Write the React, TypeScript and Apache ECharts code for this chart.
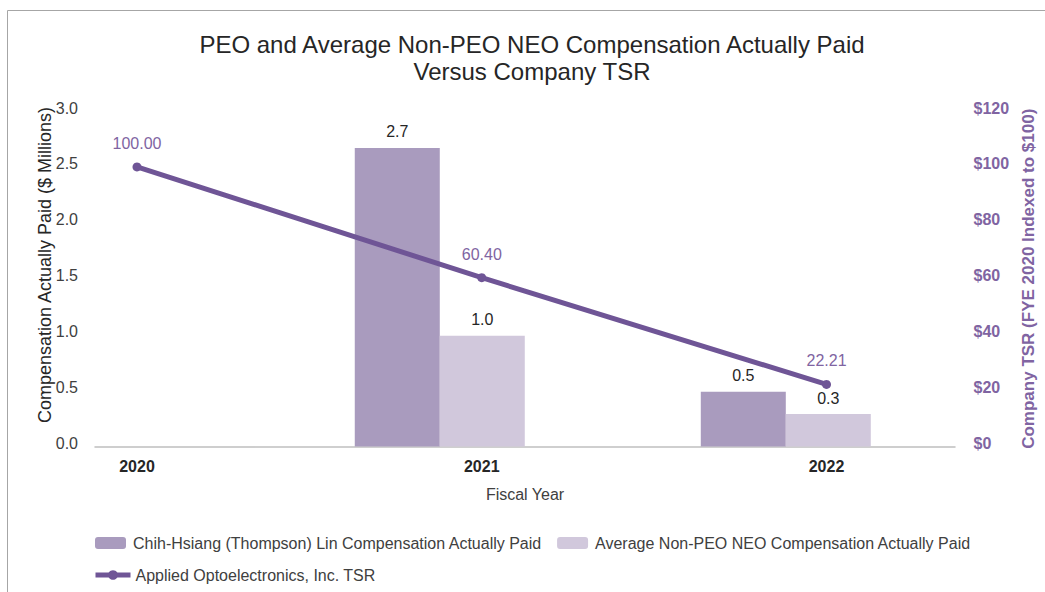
import React, { useEffect, useRef } from "react";
import * as echarts from "echarts";

const years = ["2020", "2021", "2022"];
const peoCap: (number | null)[] = [null, 2.67, 0.49];
const neoCap: (number | null)[] = [null, 0.99, 0.29];
const tsr = [100.0, 60.4, 22.21];

const peoName = "Chih-Hsiang (Thompson) Lin Compensation Actually Paid";
const neoName = "Average Non-PEO NEO Compensation Actually Paid";
const tsrName = "Applied Optoelectronics, Inc. TSR";

const FONT = "'Liberation Sans', Arial, sans-serif";
const BAR_OFFSET = 0.125;

export default function App() {
  const ref = useRef<HTMLDivElement>(null);
  useEffect(() => {
    if (!ref.current) return;
    const chart = echarts.init(ref.current, null, { renderer: "svg" });
    const barData = (arr: (number | null)[]) =>
      arr
        .map((v, i) => (v == null ? null : [i - BAR_OFFSET, v]))
        .filter((d) => d != null);
    chart.setOption({
      animation: false,
      textStyle: { fontFamily: FONT },
      graphic: [
        {
          type: "rect",
          shape: { x: 7.5, y: 10.5, width: 1200, height: 800 },
          style: { fill: "none", stroke: "#a6a6a6", lineWidth: 1 },
          silent: true,
        },
        {
          type: "text",
          x: 532,
          y: 31,
          style: {
            text: "PEO and Average Non-PEO NEO Compensation Actually Paid\nVersus Company TSR",
            textAlign: "center",
            textVerticalAlign: "top",
            fontSize: 24,
            fontFamily: FONT,
            lineHeight: 27,
            fill: "#262626",
          },
        },
        {
          type: "text",
          x: 45,
          y: 265,
          rotation: Math.PI / 2,
          style: {
            text: "Compensation Actually Paid ($ Millions)",
            textAlign: "center",
            textVerticalAlign: "middle",
            fontSize: 18,
            fontFamily: FONT,
            fill: "#262626",
          },
        },
      ],
      legend: [
        {
          data: [peoName, neoName],
          left: 95,
          top: 535,
          padding: 0,
          itemWidth: 31,
          itemHeight: 12,
          itemGap: 15,
          textStyle: { fontSize: 16, color: "#404040", fontFamily: FONT, padding: [0, 0, 0, 2] },
        },
        {
          data: [tsrName],
          left: 93,
          top: 567,
          padding: 0,
          itemWidth: 35,
          itemHeight: 12,
          lineStyle: { width: 5 },
          textStyle: { fontSize: 16, color: "#404040", fontFamily: FONT },
        },
      ],
      grid: [
        { left: 95, right: 90, top: 111, bottom: 145.5 },
        { left: 137, right: 217, top: 111, bottom: 145.5 },
      ],
      xAxis: [
        {
          gridIndex: 0,
          type: "value",
          min: -0.1214,
          max: 2.364,
          axisLine: { show: true, lineStyle: { color: "#bfbfbf", width: 1.5 } },
          axisTick: { show: false },
          axisLabel: { show: false },
          splitLine: { show: false },
          name: "Fiscal Year",
          nameLocation: "middle",
          nameGap: 40,
          nameTextStyle: { fontSize: 16, color: "#404040", fontFamily: FONT },
        },
        {
          gridIndex: 1,
          type: "category",
          data: years,
          boundaryGap: false,
          axisLine: { show: false },
          axisTick: { show: false },
          axisLabel: {
            fontSize: 16,
            fontWeight: "bold",
            color: "#262626",
            margin: 12,
            fontFamily: FONT,
          },
        },
      ],
      yAxis: [
        {
          gridIndex: 0,
          type: "value",
          position: "left",
          min: 0,
          max: 3,
          interval: 0.5,
          axisLine: { show: false },
          axisTick: { show: false },
          splitLine: { show: false },
          axisLabel: {
            formatter: (v: number) => v.toFixed(1),
            fontSize: 16,
            color: "#404040",
            margin: 17,
            verticalAlign: "bottom",
            lineHeight: 6,
            fontFamily: FONT,
          },
        },
        {
          gridIndex: 1,
          type: "value",
          position: "right",
          offset: 127,
          min: 0,
          max: 120,
          interval: 20,
          axisLine: { show: false },
          axisTick: { show: false },
          splitLine: { show: false },
          axisLabel: {
            formatter: (v: number) => "$" + v,
            fontSize: 16,
            fontWeight: "bold",
            color: "#8064a2",
            margin: 20,
            verticalAlign: "bottom",
            lineHeight: 6,
            fontFamily: FONT,
          },
          name: "Company TSR (FYE 2020 Indexed to $100)",
          nameLocation: "middle",
          nameRotate: 90,
          nameGap: 63,
          nameTextStyle: {
            fontSize: 17,
            fontWeight: "bold",
            color: "#8064a2",
            fontFamily: FONT,
          },
        },
      ],
      series: [
        {
          name: peoName,
          type: "bar",
          xAxisIndex: 0,
          yAxisIndex: 0,
          data: barData(peoCap),
          barWidth: 85,
          barGap: "0%",
          itemStyle: { color: "#a99bbe" },
          label: {
            show: true,
            position: "top",
            distance: 8,
            formatter: (p: any) => p.value[1].toFixed(1),
            fontSize: 16,
            color: "#262626",
            fontFamily: FONT,
          },
        },
        {
          name: neoName,
          type: "bar",
          xAxisIndex: 0,
          yAxisIndex: 0,
          data: barData(neoCap),
          barWidth: 85,
          barGap: "0%",
          itemStyle: { color: "#d1c8dc" },
          label: {
            show: true,
            position: "top",
            distance: 8,
            formatter: (p: any) => p.value[1].toFixed(1),
            fontSize: 16,
            color: "#262626",
            fontFamily: FONT,
          },
        },
        {
          name: tsrName,
          type: "line",
          xAxisIndex: 1,
          yAxisIndex: 1,
          data: tsr,
          z: 5,
          symbol: "circle",
          symbolSize: 9,
          lineStyle: { color: "#6f5596", width: 5 },
          itemStyle: { color: "#6f5596" },
          label: {
            show: true,
            position: "top",
            distance: 11,
            formatter: (p: any) => Number(p.value).toFixed(2),
            fontSize: 16,
            color: "#8064a2",
            fontFamily: FONT,
          },
        },
      ],
    });
    return () => chart.dispose();
  }, []);
  return (
    <div
      ref={ref}
      style={{ position: "fixed", left: 0, top: 0, width: 1045, height: 592, background: "#fff" }}
    />
  );
}
